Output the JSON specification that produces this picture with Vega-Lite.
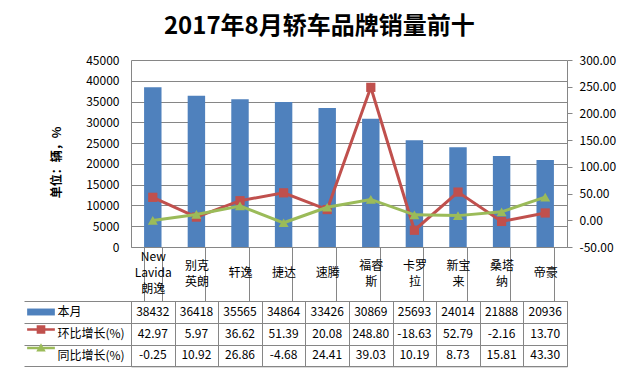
{
  "$schema": "https://vega.github.io/schema/vega-lite/v6.json",
  "padding": {"left": 23, "top": 15, "right": 5, "bottom": 5},
  "background": "white",
  "title": {"text": "2017年8月轿车品牌销量前十", "font": "Noto Sans CJK SC", "fontSize": 24, "fontWeight": "bold", "color": "#000000", "anchor": "middle", "offset": 15},
  "config": {
    "font": "Noto Sans CJK SC",
    "locale": {"number": {"decimal": ".", "thousands": ",", "grouping": [3], "currency": ["$", ""], "minus": "-"}},
    "axis": {"labelFont": "Noto Sans CJK SC", "labelFontSize": 12, "labelColor": "#000000", "titleFont": "Noto Sans CJK SC", "titleColor": "#000000", "domainColor": "#868686", "tickColor": "#868686", "gridColor": "#868686", "gridOpacity": 1},
    "view": {"stroke": null}
  },
  "datasets": {
    "sales": [
      {"brand": "New Lavida朗逸", "本月": 38432, "环比增长(%)": 42.97, "同比增长(%)": -0.25},
      {"brand": "别克英朗", "本月": 36418, "环比增长(%)": 5.97, "同比增长(%)": 10.92},
      {"brand": "轩逸", "本月": 35565, "环比增长(%)": 36.62, "同比增长(%)": 26.86},
      {"brand": "捷达", "本月": 34864, "环比增长(%)": 51.39, "同比增长(%)": -4.68},
      {"brand": "速腾", "本月": 33426, "环比增长(%)": 20.08, "同比增长(%)": 24.41},
      {"brand": "福睿斯", "本月": 30869, "环比增长(%)": 248.80, "同比增长(%)": 39.03},
      {"brand": "卡罗拉", "本月": 25693, "环比增长(%)": -18.63, "同比增长(%)": 10.19},
      {"brand": "新宝来", "本月": 24014, "环比增长(%)": 52.79, "同比增长(%)": 8.73},
      {"brand": "桑塔纳", "本月": 21888, "环比增长(%)": -2.16, "同比增长(%)": 15.81},
      {"brand": "帝豪", "本月": 20936, "环比增长(%)": 13.70, "同比增长(%)": 43.30}
    ]
  },
  "spacing": 54,
  "bounds": "flush",
  "resolve": {"scale": {"color": "independent", "shape": "independent"}},
  "vconcat": [
    {
      "width": 436,
      "height": 187,
      "data": {"name": "sales"},
      "layer": [
        {
          "mark": {"type": "bar", "color": "#4F81BD"},
          "encoding": {
            "x": {"field": "brand", "type": "nominal", "sort": null,
              "scale": {"paddingInner": 0.6, "paddingOuter": 0.3},
              "axis": {"title": null, "labelAngle": 0, "tickBand": "extent", "tickSize": 54, "labelPadding": -36, "labelLineHeight": 16, "labelFontSize": 12,
                "labelBaseline": {"condition": [{"test": "datum.label === 'New Lavida朗逸'", "value": "line-bottom"}, {"test": "length(datum.label) > 2", "value": "middle"}], "value": "line-top"},
                "labelExpr": "datum.label === 'New Lavida朗逸' ? ['New', 'Lavida', '朗逸'] : (length(datum.label) > 2 ? [substring(datum.label, 0, 2), substring(datum.label, 2)] : datum.label)"}},
            "y": {"field": "本月", "type": "quantitative", "scale": {"domain": [0, 45000]},
              "axis": {"values": [0, 5000, 10000, 15000, 20000, 25000, 30000, 35000, 40000, 45000], "format": "d", "title": "单位：辆，%", "titleFontWeight": "bold", "titleFontSize": 12, "titlePadding": 22, "titleY": 102, "ticks": false, "labelPadding": 12, "grid": true}}
          }
        },
        {
          "layer": [
            {
              "mark": {"type": "line", "color": "#C0504D", "strokeWidth": 3},
              "encoding": {
                "x": {"field": "brand", "type": "nominal", "sort": null},
                "y": {"field": "环比增长(%)", "type": "quantitative", "scale": {"domain": [-50, 300]},
                  "axis": {"orient": "right", "title": null, "values": [-50, 0, 50, 100, 150, 200, 250, 300], "format": ".2f", "tickSize": 5, "labelPadding": 7, "grid": false}}
              }
            },
            {
              "mark": {"type": "point", "shape": "square", "filled": true, "color": "#C0504D", "size": 85, "opacity": 1},
              "encoding": {
                "x": {"field": "brand", "type": "nominal", "sort": null},
                "y": {"field": "环比增长(%)", "type": "quantitative", "scale": {"domain": [-50, 300]},
                  "axis": {"orient": "right", "title": null, "values": [-50, 0, 50, 100, 150, 200, 250, 300], "format": ".2f", "tickSize": 5, "labelPadding": 7, "grid": false}}
              }
            },
            {
              "mark": {"type": "line", "color": "#9BBB59", "strokeWidth": 3},
              "encoding": {
                "x": {"field": "brand", "type": "nominal", "sort": null},
                "y": {"field": "同比增长(%)", "type": "quantitative", "scale": {"domain": [-50, 300]},
                  "axis": {"orient": "right", "title": null, "values": [-50, 0, 50, 100, 150, 200, 250, 300], "format": ".2f", "tickSize": 5, "labelPadding": 7, "grid": false}}
              }
            },
            {
              "mark": {"type": "point", "shape": "triangle-up", "filled": true, "color": "#9BBB59", "size": 100, "opacity": 1},
              "encoding": {
                "x": {"field": "brand", "type": "nominal", "sort": null},
                "y": {"field": "同比增长(%)", "type": "quantitative", "scale": {"domain": [-50, 300]},
                  "axis": {"orient": "right", "title": null, "values": [-50, 0, 50, 100, 150, 200, 250, 300], "format": ".2f", "tickSize": 5, "labelPadding": 7, "grid": false}}
              }
            }
          ]
        }
      ],
      "resolve": {"scale": {"y": "independent"}}
    },
    {
      "width": 436,
      "height": 65.3,
      "view": {"stroke": "#868686"},
      "layer": [
        {
          "data": {"name": "sales"},
          "transform": [{"fold": ["本月", "环比增长(%)", "同比增长(%)"], "as": ["row", "v"]}],
          "layer": [
            {
              "transform": [{"filter": "datum.row === '本月'"}],
              "mark": {"type": "text", "fontSize": 12, "color": "#000000"},
              "encoding": {
                "x": {"field": "brand", "type": "nominal", "sort": null, "scale": {"paddingInner": 0, "paddingOuter": 0},
                  "axis": {"title": null, "labels": false, "ticks": false, "domain": false, "grid": true, "tickBand": "extent"}},
                "y": {"field": "row", "type": "nominal", "scale": {"domain": ["本月", "环比增长(%)", "同比增长(%)"], "paddingInner": 0, "paddingOuter": 0},
                  "axis": {"title": null, "grid": true, "tickBand": "extent", "ticks": true, "tickSize": 107, "labelAlign": "left", "labelPadding": -33, "labelFontSize": 12, "domain": true}},
                "text": {"field": "v", "type": "quantitative", "format": "d"}
              }
            },
            {
              "transform": [{"filter": "datum.row !== '本月'"}],
              "mark": {"type": "text", "fontSize": 12, "color": "#000000"},
              "encoding": {
                "x": {"field": "brand", "type": "nominal", "sort": null},
                "y": {"field": "row", "type": "nominal"},
                "text": {"field": "v", "type": "quantitative", "format": ".2f"}
              }
            }
          ]
        },
        {
          "data": {"values": [{"s": "本月"}, {"s": "环比增长(%)"}, {"s": "同比增长(%)"}]},
          "mark": {"type": "point", "filled": true, "opacity": 0},
          "encoding": {
            "y": {"field": "s", "type": "nominal", "scale": {"domain": ["本月", "环比增长(%)", "同比增长(%)"], "paddingInner": 0, "paddingOuter": 0},
              "axis": {"orient": "left", "title": null, "labels": false, "ticks": false, "grid": false, "domain": true}},
            "color": {"field": "s", "type": "nominal",
              "scale": {"domain": ["本月", "环比增长(%)", "同比增长(%)"], "range": ["#4F81BD", "#C0504D", "#9BBB59"]},
              "legend": {"orient": "none", "legendX": -99, "legendY": 2, "title": null, "symbolSize": 300, "rowPadding": 4.5, "padding": 0, "labelExpr": "''", "labelFontSize": 1, "symbolStrokeWidth": 0, "symbolOpacity": 1, "direction": "vertical",
                "encode": {"symbols": {"update": {"opacity": {"value": 1}}}}}},
            "shape": {"field": "s", "type": "nominal",
              "scale": {"domain": ["本月", "环比增长(%)", "同比增长(%)"], "range": ["M-1.6,-0.4H1.6V0.4H-1.6Z", "M-1.6,-0.15H1.6V0.15H-1.6Z M-0.5,-0.5H0.5V0.5H-0.5Z", "M-1.6,-0.15H1.6V0.15H-1.6Z M0,-0.55L0.55,0.4H-0.55Z"]},
              "legend": {"orient": "none", "legendX": -99, "legendY": 2, "title": null, "symbolSize": 300, "rowPadding": 4.5, "padding": 0, "labelExpr": "''", "labelFontSize": 1, "symbolStrokeWidth": 0, "symbolOpacity": 1, "direction": "vertical",
                "encode": {"symbols": {"update": {"opacity": {"value": 1}}}}}}
          }
        }
      ],
      "resolve": {"scale": {"y": "independent"}, "axis": {"y": "independent"}}
    }
  ]
}
